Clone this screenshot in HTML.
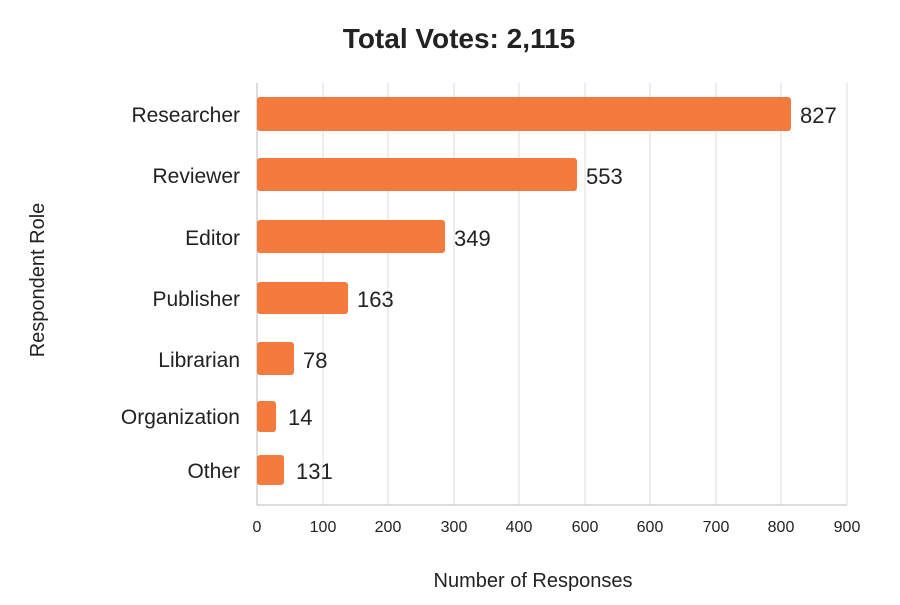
<!DOCTYPE html>
<html><head><meta charset="utf-8"><style>
body{margin:0;background:#fff;}
svg text{font-family:"Liberation Sans",sans-serif;fill:#222;}
</style></head><body>
<svg width="900" height="600" xmlns="http://www.w3.org/2000/svg">
<rect width="900" height="600" fill="#fff"/>
<text x="459" y="48" font-size="28" font-weight="bold" text-anchor="middle" fill="#1a1a1a">Total Votes: 2,115</text>
<g stroke="#dcdcdc" stroke-width="1">
<line x1="323" y1="83" x2="323" y2="505"/><line x1="388" y1="83" x2="388" y2="505"/>
<line x1="454" y1="83" x2="454" y2="505"/><line x1="519" y1="83" x2="519" y2="505"/>
<line x1="585" y1="83" x2="585" y2="505"/><line x1="650" y1="83" x2="650" y2="505"/>
<line x1="716" y1="83" x2="716" y2="505"/><line x1="781" y1="83" x2="781" y2="505"/>
<line x1="847" y1="83" x2="847" y2="505"/>
</g>
<line x1="257" y1="83" x2="257" y2="505" stroke="#bbb"/>
<line x1="257" y1="505" x2="847" y2="505" stroke="#bbb"/>
<g fill="#F47A3E">
<rect x="257" y="97" width="534" height="34" rx="3"/>
<rect x="257" y="158" width="320" height="33" rx="3"/>
<rect x="257" y="220" width="188" height="33" rx="3"/>
<rect x="257" y="282" width="91" height="32" rx="3"/>
<rect x="257" y="342" width="37" height="33" rx="3"/>
<rect x="257" y="401" width="19" height="31" rx="3"/>
<rect x="257" y="455" width="27" height="30" rx="3"/>
</g>
<g font-size="21" text-anchor="end">
<text x="240" y="122">Researcher</text>
<text x="240" y="183">Reviewer</text>
<text x="240" y="245">Editor</text>
<text x="240" y="306">Publisher</text>
<text x="240" y="367">Librarian</text>
<text x="240" y="424">Organization</text>
<text x="240" y="478">Other</text>
</g>
<g font-size="22" fill="#111">
<text x="800" y="123">827</text>
<text x="586" y="184">553</text>
<text x="454" y="246">349</text>
<text x="357" y="307">163</text>
<text x="303" y="368">78</text>
<text x="288" y="425">14</text>
<text x="296" y="479">131</text>
</g>
<g font-size="16" text-anchor="middle" fill="#333">
<text x="257" y="532">0</text><text x="323" y="532">100</text><text x="388" y="532">200</text>
<text x="454" y="532">300</text><text x="519" y="532">400</text><text x="585" y="532">600</text>
<text x="650" y="532">600</text><text x="716" y="532">700</text><text x="781" y="532">800</text>
<text x="847" y="532">900</text>
</g>
<text x="533" y="587" font-size="20" text-anchor="middle">Number of Responses</text>
<text transform="translate(44,280) rotate(-90)" font-size="20" text-anchor="middle">Respondent Role</text>
</svg>
</body></html>
